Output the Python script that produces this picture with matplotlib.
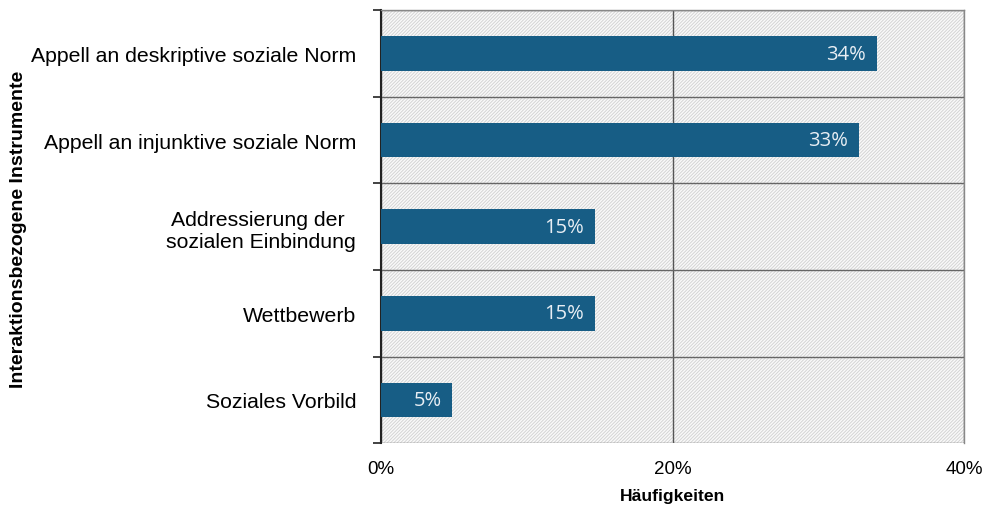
import matplotlib.pyplot as plt
from matplotlib.patches import Rectangle
from matplotlib.ticker import FuncFormatter, MultipleLocator

# data
categories = ["Appell an deskriptive soziale Norm",
              "Appell an injunktive soziale Norm",
              "Addressierung der \nsozialen Einbindung",
              "Wettbewerb",
              "Soziales Vorbild"]
values = [34.0, 32.8, 14.7, 14.7, 4.9]
value_labels = ["34%", "33%", "15%", "15%", "5%"]

plt.rcParams['font.family'] = ['Liberation Sans', 'DejaVu Sans']
plt.rcParams['hatch.linewidth'] = 0.7

fig = plt.figure(figsize=(9.82, 5.10), dpi=100)
ax = fig.add_axes([0.388, 0.129, 0.5937, 0.849])

# hatched background
bg = Rectangle((0, 0), 1, 1, transform=ax.transAxes, facecolor='#fafafa',
               edgecolor='#d4d4d4', hatch='/' * 10, linewidth=0, zorder=0)
ax.add_patch(bg)

y = list(range(len(categories)))
ax.barh(y, values, height=0.4, color='#175d85', zorder=3)
for yi, v, lab in zip(y, values, value_labels):
    ax.text(v - 0.75, yi, lab, ha='right', va='center', color='#e8eef4',
            fontsize=14.5, family=['Open Sans', 'DejaVu Sans'], zorder=4)

ax.set_xlim(0, 40)
ax.set_ylim(len(categories) - 0.5, -0.5)
ax.xaxis.set_major_locator(MultipleLocator(20))
ax.xaxis.set_major_formatter(FuncFormatter(lambda v, p: f"{v:.0f}%"))
ax.set_yticks(y)
ax.set_yticklabels(categories, fontsize=15.3)
ax.set_yticks([i + 0.5 for i in range(len(categories) - 1)] + [-0.5, len(categories) - 0.5], minor=True)
ax.tick_params(axis='y', which='major', length=0, pad=18)
ax.tick_params(axis='y', which='minor', length=6, width=1.2, color='#222222')
ax.tick_params(axis='x', length=0, labelsize=13.5, pad=12)
for t in ax.get_yticklabels():
    t.set_multialignment('center')

ax.grid(axis='x', which='major', color='#555555', linewidth=1, zorder=1)
ax.grid(axis='y', which='minor', color='#666666', linewidth=1, zorder=1)
ax.set_axisbelow(True)

for s in ['top', 'right', 'bottom']:
    ax.spines[s].set_color('#888888')
    ax.spines[s].set_linewidth(1)
ax.spines['bottom'].set_visible(False)
ax.spines['left'].set_color('#222222')
ax.spines['left'].set_linewidth(1.5)

ax.set_xlabel("Häufigkeiten", fontsize=12.6, fontweight='bold', labelpad=8)
fig.text(0.019, 0.55, "Interaktionsbezogene Instrumente", rotation=90,
         ha='center', va='center', fontsize=14, fontweight='bold')

fig.savefig("out.png", dpi=100)
